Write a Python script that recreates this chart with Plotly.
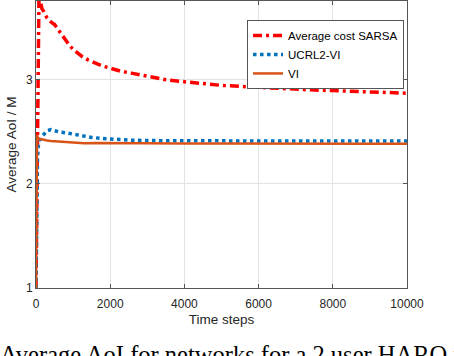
import plotly.graph_objects as go

# ---- data ----
sarsa_x = [0, 20, 40, 60, 80, 100, 130, 160, 200, 250, 300, 350, 400, 450, 500, 600, 700, 800,
           900, 1000, 1100, 1250, 1400, 1600, 1800, 2000, 2300, 2600, 3000, 3500, 4000, 4500,
           5000, 5500, 6000, 6500, 7000, 7500, 8000, 8500, 9000, 9500, 10000]
sarsa_y = [1.0, 1.9, 2.9, 3.55, 3.8, 3.8, 3.72, 3.68, 3.66, 3.62, 3.59, 3.57, 3.55, 3.54, 3.53,
           3.48, 3.42, 3.37, 3.33, 3.29, 3.26, 3.22, 3.19, 3.16, 3.13, 3.11, 3.08, 3.06, 3.03,
           3.00, 2.98, 2.96, 2.945, 2.935, 2.925, 2.915, 2.905, 2.9, 2.895, 2.89, 2.885, 2.878, 2.87]

ucrl_x = [0, 20, 40, 60, 100, 150, 200, 250, 300, 400, 500, 600, 800, 1000, 1200, 1500, 1800,
          2000, 2500, 3000, 4000, 5000, 6000, 7000, 8000, 9000, 10000]
ucrl_y = [1.0, 2.0, 2.25, 2.36, 2.42, 2.45, 2.47, 2.49, 2.51, 2.52, 2.51, 2.5, 2.49, 2.475,
          2.46, 2.445, 2.435, 2.43, 2.42, 2.415, 2.412, 2.41, 2.41, 2.41, 2.41, 2.41, 2.41]

vi_x = [0, 15, 30, 50, 80, 120, 200, 300, 400, 600, 800, 1000, 1300, 1600, 2000, 2500, 3000,
        4000, 5000, 6000, 7000, 8000, 9000, 10000]
vi_y = [1.0, 2.2, 2.47, 2.44, 2.43, 2.43, 2.42, 2.415, 2.41, 2.405, 2.4, 2.395, 2.39, 2.392,
        2.39, 2.387, 2.388, 2.386, 2.387, 2.385, 2.386, 2.385, 2.385, 2.385]

names = ["Average cost SARSA", "UCRL2-VI", "VI"]
x_ticks = [0, 2000, 4000, 6000, 8000, 10000]
x_tick_labels = ["0", "2000", "4000", "6000", "8000", "10000"]
y_ticks = [1, 2, 3]
y_tick_labels = ["1", "2", "3"]
x_title = "Time steps"
y_title = "Average AoI / M"
caption = "Average AoI for networks for a 2 user HARQ network"

FONT = "Liberation Sans, Arial, Helvetica, sans-serif"
TXT = "#262626"

fig = go.Figure()
fig.add_trace(go.Scatter(x=sarsa_x, y=sarsa_y, mode="lines", name=names[0],
                         line=dict(color="#FF0000", width=3.5, dash="9px,4px,3px,4px")))
fig.add_trace(go.Scatter(x=ucrl_x, y=ucrl_y, mode="lines", name=names[1],
                         line=dict(color="#0072BD", width=3.5, dash="dot")))
fig.add_trace(go.Scatter(x=vi_x, y=vi_y, mode="lines", name=names[2],
                         line=dict(color="#D95319", width=2.5)))

axis_common = dict(showgrid=True, gridcolor="#e3e3e3", gridwidth=1, zeroline=False,
                   showline=True, linecolor="#555555", linewidth=1, mirror="ticks",
                   ticks="inside", ticklen=4, tickcolor="#555555", automargin=False,
                   tickfont=dict(family=FONT, size=12, color=TXT))

fig.update_xaxes(range=[0, 10000], tickvals=x_ticks, ticktext=x_tick_labels,
                 ticklabelstandoff=5,
                 title=dict(text=x_title, font=dict(family=FONT, size=13.5, color=TXT), standoff=4),
                 **axis_common)
fig.update_yaxes(range=[1, 3.755], tickvals=y_ticks, ticktext=y_tick_labels,
                 title=dict(text=y_title, font=dict(family=FONT, size=13.5, color=TXT), standoff=6),
                 **axis_common)

fig.add_annotation(text=caption, xref="paper", yref="paper", x=-0.102, y=-0.176,
                   xanchor="left", yanchor="top", showarrow=False,
                   font=dict(family="Liberation Serif, Times New Roman, serif", size=24.5, color="#000000"))

fig.update_layout(
    width=454, height=356,
    margin=dict(l=36, r=47, t=1, b=68),
    paper_bgcolor="white", plot_bgcolor="white",
    showlegend=True,
    legend=dict(x=0.992, y=0.934, xanchor="right", yanchor="top",
                bgcolor="white", bordercolor="#555555", borderwidth=1,
                font=dict(family=FONT, size=11.5, color="#000000"),
                tracegroupgap=0, itemwidth=30),
)

fig.write_html("out.html", config={"displayModeBar": False},
               post_script="document.body.style.margin='0';")
